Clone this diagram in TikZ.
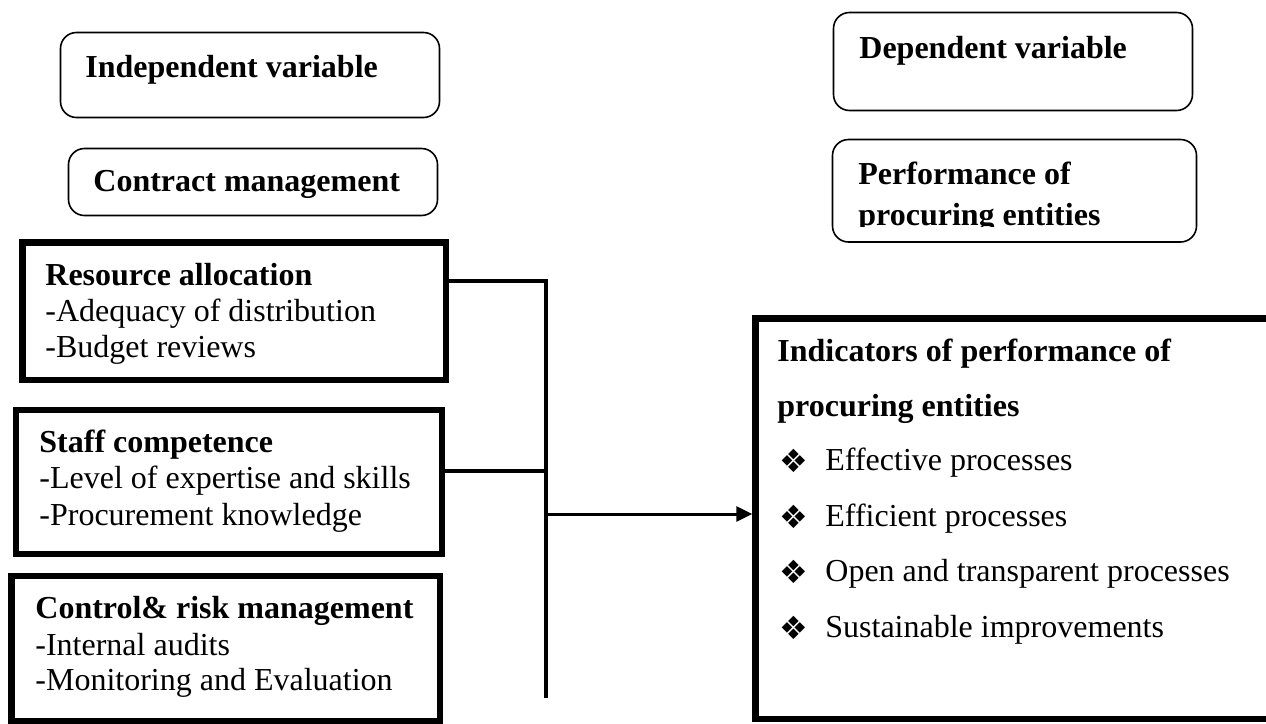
\documentclass[tikz,border=0pt]{standalone}
\usepackage{fontspec}
\setmainfont{Liberation Serif}
\newfontfamily\dingfont{DejaVu Sans}
\usetikzlibrary{arrows.meta,fit}

\begin{document}
\begin{tikzpicture}[x=0.5pt,y=-0.5pt,
  softbox/.style={draw, line width=0.8pt, rounded corners=8pt, inner sep=0pt, outer sep=0pt},
  heavybox/.style={draw, line width=3.3pt, inner sep=0pt, outer sep=0pt},
  txt/.style={anchor=base west, inner sep=0pt, font=\fontsize{16pt}{19pt}\selectfont},
  hd/.style={anchor=base west, inner sep=0pt, font=\fontsize{16pt}{19pt}\selectfont\bfseries},
  bul/.style={anchor=base west, inner sep=0pt, font=\dingfont\fontsize{16pt}{19pt}\selectfont},
  wire/.style={line width=1.9pt},
  feed/.style={line width=1.5pt, shorten >=1.6pt, -{Triangle[length=8pt,width=7.5pt]}}
]
\useasboundingbox (0,0) rectangle (1266,724);
\clip (0,0) rectangle (1266,724);

% variable headings
\node[softbox, fit={(60.5,32.5)(439.5,117.5)}] (indep) {};
\node[hd] (indepT) at (85,77) {Independent variable};
\node[softbox, fit={(68.5,148.5)(437.5,215.5)}] (cm) {};
\node[hd] (cmT) at (93,191) {Contract management};

\node[softbox, fit={(833.5,12.5)(1192.5,110.5)}] (dep) {};
\node[hd] (depT) at (859,58) {Dependent variable};
\node[softbox, fit={(832.5,139.5)(1196.5,242)}] (perf) {};
\node[hd] (perfT1) at (858,184) {Performance of};
\begin{scope}
  \clip (820,190) rectangle (1190,226);
  \node[hd] (perfT2) at (858,225) {procuring entities};
\end{scope}

% independent variable dimensions
\node[heavybox, fit={(22.5,242.5)(446,380)}] (res) {};
\node[hd]  (res1) at (45,285) {Resource allocation};
\node[txt] (res2) at (45,321) {-Adequacy of distribution};
\node[txt] (res3) at (45,357) {-Budget reviews};

\node[heavybox, fit={(16,410)(442,554)}] (staff) {};
\node[hd]  (staff1) at (39,452) {Staff competence};
\node[txt] (staff2) at (39,488) {-Level of expertise and skills};
\node[txt] (staff3) at (39,525) {-Procurement knowledge};

\node[heavybox, fit={(11.5,576)(440,721)}] (ctrl) {};
\node[hd]  (ctrl1) at (35,618) {Control\& risk management};
\node[txt] (ctrl2) at (35,655) {-Internal audits};
\node[txt] (ctrl3) at (35,690) {-Monitoring and Evaluation};

% dependent variable indicators
\node[heavybox, fit={(755.5,318.5)(1290,719)}] (ind) {};
\node[hd] (ind1) at (777,361) {Indicators of performance of};
\node[hd] (ind2) at (777,416) {procuring entities};
\foreach \y/\t [count=\i] in {470/Effective processes,526/Efficient processes,581/Open and transparent processes,637/Sustainable improvements}{
  \node[bul] (b\i) at (779,\y+2) {❖};
  \node[txt] (it\i) at (825,\y) {\t};
}

% connectors
\coordinate (jtop) at (546,281);
\coordinate (jmid) at (546,471);
\coordinate (jout) at (546,514);
\coordinate (jbot) at (546,698);
\draw[wire] (res.east |- jtop) -- (jtop) -- (jbot);
\draw[wire] (staff.east |- jmid) -- (jmid);
\draw[feed] (jout) -- (ind.west |- jout);
\end{tikzpicture}
\end{document}
